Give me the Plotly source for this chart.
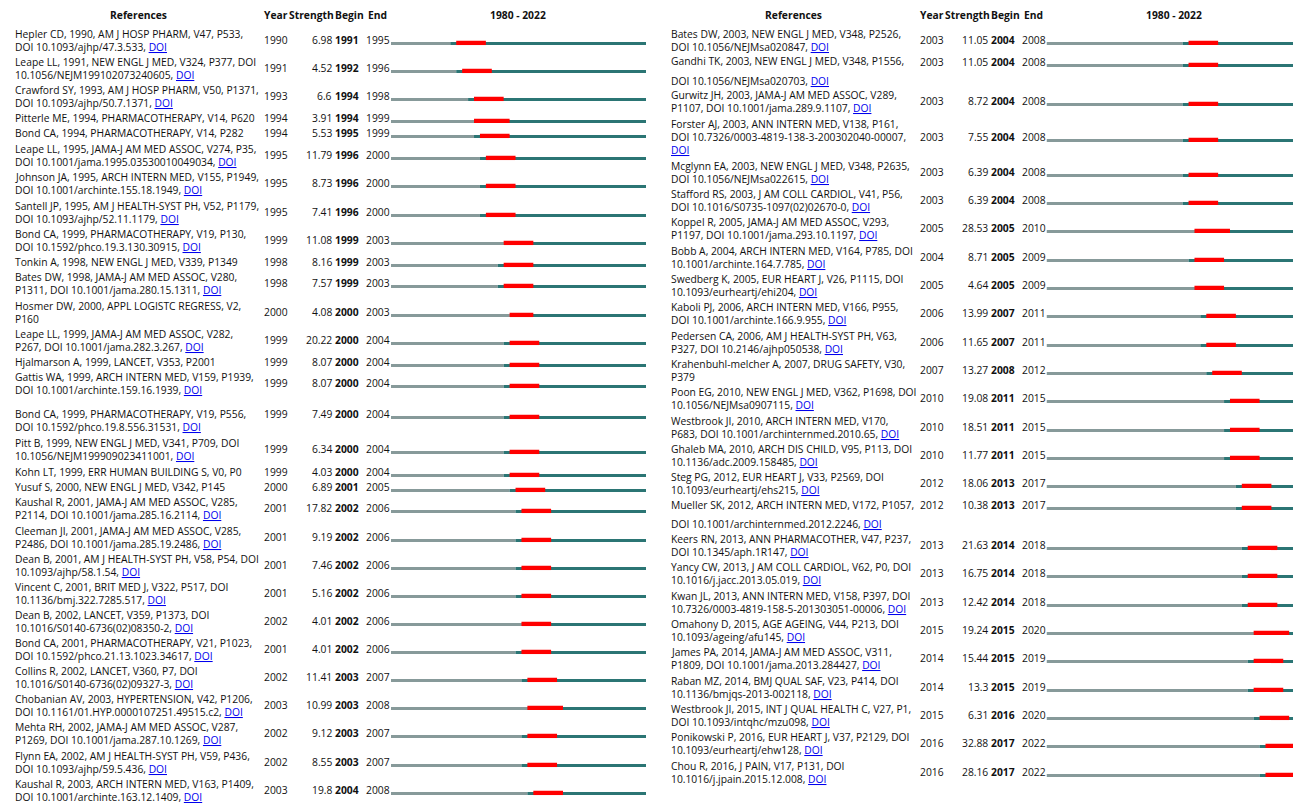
import plotly.graph_objects as go

# ---------------- data ----------------
refs_left = [
    "Hepler CD, 1990, AM J HOSP PHARM, V47, P533,\nDOI 10.1093/ajhp/47.3.533, [DOI]",
    "Leape LL, 1991, NEW ENGL J MED, V324, P377, DOI\n10.1056/NEJM199102073240605, [DOI]",
    "Crawford SY, 1993, AM J HOSP PHARM, V50, P1371,\nDOI 10.1093/ajhp/50.7.1371, [DOI]",
    "Pitterle ME, 1994, PHARMACOTHERAPY, V14, P620",
    "Bond CA, 1994, PHARMACOTHERAPY, V14, P282",
    "Leape LL, 1995, JAMA-J AM MED ASSOC, V274, P35,\nDOI 10.1001/jama.1995.03530010049034, [DOI]",
    "Johnson JA, 1995, ARCH INTERN MED, V155, P1949,\nDOI 10.1001/archinte.155.18.1949, [DOI]",
    "Santell JP, 1995, AM J HEALTH-SYST PH, V52, P1179,\nDOI 10.1093/ajhp/52.11.1179, [DOI]",
    "Bond CA, 1999, PHARMACOTHERAPY, V19, P130,\nDOI 10.1592/phco.19.3.130.30915, [DOI]",
    "Tonkin A, 1998, NEW ENGL J MED, V339, P1349",
    "Bates DW, 1998, JAMA-J AM MED ASSOC, V280,\nP1311, DOI 10.1001/jama.280.15.1311, [DOI]",
    "Hosmer DW, 2000, APPL LOGISTC REGRESS, V2,\nP160",
    "Leape LL, 1999, JAMA-J AM MED ASSOC, V282,\nP267, DOI 10.1001/jama.282.3.267, [DOI]",
    "Hjalmarson A, 1999, LANCET, V353, P2001",
    "Gattis WA, 1999, ARCH INTERN MED, V159, P1939,\nDOI 10.1001/archinte.159.16.1939, [DOI]",
    "Bond CA, 1999, PHARMACOTHERAPY, V19, P556,\nDOI 10.1592/phco.19.8.556.31531, [DOI]",
    "Pitt B, 1999, NEW ENGL J MED, V341, P709, DOI\n10.1056/NEJM199909023411001, [DOI]",
    "Kohn LT, 1999, ERR HUMAN BUILDING S, V0, P0",
    "Yusuf S, 2000, NEW ENGL J MED, V342, P145",
    "Kaushal R, 2001, JAMA-J AM MED ASSOC, V285,\nP2114, DOI 10.1001/jama.285.16.2114, [DOI]",
    "Cleeman JI, 2001, JAMA-J AM MED ASSOC, V285,\nP2486, DOI 10.1001/jama.285.19.2486, [DOI]",
    "Dean B, 2001, AM J HEALTH-SYST PH, V58, P54, DOI\n10.1093/ajhp/58.1.54, [DOI]",
    "Vincent C, 2001, BRIT MED J, V322, P517, DOI\n10.1136/bmj.322.7285.517, [DOI]",
    "Dean B, 2002, LANCET, V359, P1373, DOI\n10.1016/S0140-6736(02)08350-2, [DOI]",
    "Bond CA, 2001, PHARMACOTHERAPY, V21, P1023,\nDOI 10.1592/phco.21.13.1023.34617, [DOI]",
    "Collins R, 2002, LANCET, V360, P7, DOI\n10.1016/S0140-6736(02)09327-3, [DOI]",
    "Chobanian AV, 2003, HYPERTENSION, V42, P1206,\nDOI 10.1161/01.HYP.0000107251.49515.c2, [DOI]",
    "Mehta RH, 2002, JAMA-J AM MED ASSOC, V287,\nP1269, DOI 10.1001/jama.287.10.1269, [DOI]",
    "Flynn EA, 2002, AM J HEALTH-SYST PH, V59, P436,\nDOI 10.1093/ajhp/59.5.436, [DOI]",
    "Kaushal R, 2003, ARCH INTERN MED, V163, P1409,\nDOI 10.1001/archinte.163.12.1409, [DOI]",
]
years_left = [1990, 1991, 1993, 1994, 1994, 1995, 1995, 1995, 1999, 1998, 1998, 2000, 1999, 1999, 1999,
              1999, 1999, 1999, 2000, 2001, 2001, 2001, 2001, 2002, 2001, 2002, 2003, 2002, 2002, 2003]
strength_left = [6.98, 4.52, 6.6, 3.91, 5.53, 11.79, 8.73, 7.41, 11.08, 8.16, 7.57, 4.08, 20.22, 8.07, 8.07,
                 7.49, 6.34, 4.03, 6.89, 17.82, 9.19, 7.46, 5.16, 4.01, 4.01, 11.41, 10.99, 9.12, 8.55, 19.8]
begin_left = [1991, 1992, 1994, 1994, 1995, 1996, 1996, 1996, 1999, 1999, 1999, 2000, 2000, 2000, 2000,
              2000, 2000, 2000, 2001, 2002, 2002, 2002, 2002, 2002, 2002, 2003, 2003, 2003, 2003, 2004]
end_left = [1995, 1996, 1998, 1999, 1999, 2000, 2000, 2000, 2003, 2003, 2003, 2003, 2004, 2004, 2004,
            2004, 2004, 2004, 2005, 2006, 2006, 2006, 2006, 2006, 2006, 2007, 2008, 2007, 2007, 2008]

refs_right = [
    "Bates DW, 2003, NEW ENGL J MED, V348, P2526,\nDOI 10.1056/NEJMsa020847, [DOI]",
    "Gandhi TK, 2003, NEW ENGL J MED, V348, P1556,\nDOI 10.1056/NEJMsa020703, [DOI]",
    "Gurwitz JH, 2003, JAMA-J AM MED ASSOC, V289,\nP1107, DOI 10.1001/jama.289.9.1107, [DOI]",
    "Forster AJ, 2003, ANN INTERN MED, V138, P161,\nDOI 10.7326/0003-4819-138-3-200302040-00007,\n[DOI]",
    "Mcglynn EA, 2003, NEW ENGL J MED, V348, P2635,\nDOI 10.1056/NEJMsa022615, [DOI]",
    "Stafford RS, 2003, J AM COLL CARDIOL, V41, P56,\nDOI 10.1016/S0735-1097(02)02670-0, [DOI]",
    "Koppel R, 2005, JAMA-J AM MED ASSOC, V293,\nP1197, DOI 10.1001/jama.293.10.1197, [DOI]",
    "Bobb A, 2004, ARCH INTERN MED, V164, P785, DOI\n10.1001/archinte.164.7.785, [DOI]",
    "Swedberg K, 2005, EUR HEART J, V26, P1115, DOI\n10.1093/eurheartj/ehi204, [DOI]",
    "Kaboli PJ, 2006, ARCH INTERN MED, V166, P955,\nDOI 10.1001/archinte.166.9.955, [DOI]",
    "Pedersen CA, 2006, AM J HEALTH-SYST PH, V63,\nP327, DOI 10.2146/ajhp050538, [DOI]",
    "Krahenbuhl-melcher A, 2007, DRUG SAFETY, V30,\nP379",
    "Poon EG, 2010, NEW ENGL J MED, V362, P1698, DOI\n10.1056/NEJMsa0907115, [DOI]",
    "Westbrook JI, 2010, ARCH INTERN MED, V170,\nP683, DOI 10.1001/archinternmed.2010.65, [DOI]",
    "Ghaleb MA, 2010, ARCH DIS CHILD, V95, P113, DOI\n10.1136/adc.2009.158485, [DOI]",
    "Steg PG, 2012, EUR HEART J, V33, P2569, DOI\n10.1093/eurheartj/ehs215, [DOI]",
    "Mueller SK, 2012, ARCH INTERN MED, V172, P1057,\nDOI 10.1001/archinternmed.2012.2246, [DOI]",
    "Keers RN, 2013, ANN PHARMACOTHER, V47, P237,\nDOI 10.1345/aph.1R147, [DOI]",
    "Yancy CW, 2013, J AM COLL CARDIOL, V62, P0, DOI\n10.1016/j.jacc.2013.05.019, [DOI]",
    "Kwan JL, 2013, ANN INTERN MED, V158, P397, DOI\n10.7326/0003-4819-158-5-201303051-00006, [DOI]",
    "Omahony D, 2015, AGE AGEING, V44, P213, DOI\n10.1093/ageing/afu145, [DOI]",
    "James PA, 2014, JAMA-J AM MED ASSOC, V311,\nP1809, DOI 10.1001/jama.2013.284427, [DOI]",
    "Raban MZ, 2014, BMJ QUAL SAF, V23, P414, DOI\n10.1136/bmjqs-2013-002118, [DOI]",
    "Westbrook JI, 2015, INT J QUAL HEALTH C, V27, P1,\nDOI 10.1093/intqhc/mzu098, [DOI]",
    "Ponikowski P, 2016, EUR HEART J, V37, P2129, DOI\n10.1093/eurheartj/ehw128, [DOI]",
    "Chou R, 2016, J PAIN, V17, P131, DOI\n10.1016/j.jpain.2015.12.008, [DOI]",
]
years_right = [2003, 2003, 2003, 2003, 2003, 2003, 2005, 2004, 2005, 2006, 2006, 2007, 2010,
               2010, 2010, 2012, 2012, 2013, 2013, 2013, 2015, 2014, 2014, 2015, 2016, 2016]
strength_right = [11.05, 11.05, 8.72, 7.55, 6.39, 6.39, 28.53, 8.71, 4.64, 13.99, 11.65, 13.27, 19.08,
                  18.51, 11.77, 18.06, 10.38, 21.63, 16.75, 12.42, 19.24, 15.44, 13.3, 6.31, 32.88, 28.16]
begin_right = [2004, 2004, 2004, 2004, 2004, 2004, 2005, 2005, 2005, 2007, 2007, 2008, 2011,
               2011, 2011, 2013, 2013, 2014, 2014, 2014, 2015, 2015, 2015, 2016, 2017, 2017]
end_right = [2008, 2008, 2008, 2008, 2008, 2008, 2010, 2009, 2009, 2011, 2011, 2012, 2015,
             2015, 2015, 2017, 2017, 2018, 2018, 2018, 2020, 2019, 2019, 2020, 2022, 2022]

first_year, last_year = 1980, 2022
col_headers = ["References", "Year", "Strength", "Begin", "End"]
timeline_header = f"{first_year} - {last_year}"

# ---------------- layout constants ----------------
W, H = 1301, 803
OFF = 8          # the page body keeps an 8px margin: draw the figure inside it
FW, FH = W - OFF, H - OFF
FONT = "Open Sans"
FS = 10.3
LH = 13
TXT = "#111111"
LINK = "#0000ee"
GRAY, TEAL, RED = "#879a9a", "#2b7574", "#ff0000"
DX = 655.5  # horizontal offset of right panel

row_y_left = [40, 68, 96, 118, 133, 155, 183, 212, 240, 262, 283, 312, 340, 362, 383,
              414, 449, 472, 487, 508, 537, 565, 593, 621, 649, 677, 705, 733, 762, 790]
row_y_right = [40, 62, 101, 137, 172, 200, 228, 257, 285, 313, 342, 370, 398,
               427, 455, 483, 505, 545, 573, 602, 630, 658, 687, 715, 743, 772]
special_offsets = {("L", 15): [0, 13], ("R", 1): [-1, 18.5], ("R", 16): [0, 19]}

DOI_HTML = f'<span style="color:{LINK};text-decoration:underline">DOI</span>'

annotations = []


def ann(x, y, text, anchor="left", bold=False):
    if bold:
        text = f"<b>{text}</b>"
    annotations.append(dict(
        x=x, y=y, xref="x", yref="y", text=text, showarrow=False,
        xanchor=anchor, yanchor="middle", borderpad=0, borderwidth=0,
        font=dict(family=FONT, size=FS, color=TXT), align="left"))


fig = go.Figure()


def panel(tag, ox, refs, years, strength, begin, end, rows, xaxis):
    # headers
    ann(ox + 138, 15, col_headers[0], "center", True)
    ann(ox + 264, 15, col_headers[1], "left", True)
    ann(ox + 289, 15, col_headers[2], "left", True)
    ann(ox + 335, 15, col_headers[3], "left", True)
    ann(ox + 368, 15, col_headers[4], "left", True)
    ann(ox + 518, 15, timeline_header, "center", True)
    for i, (ref, yr, st, b, e, yc) in enumerate(zip(refs, years, strength, begin, end, rows)):
        lines = ref.split("\n")
        n = len(lines)
        offs = special_offsets.get((tag, i), [(k - (n - 1) / 2) * LH for k in range(n)])
        for line, dy in zip(lines, offs):
            ann(ox + 15, yc + dy, line.replace("[DOI]", DOI_HTML))
        ann(ox + 264, yc, str(yr))
        ann(ox + 332, yc, str(st), "right")
        ann(ox + 335, yc, str(b), "left", True)
        ann(ox + 366, yc, str(e))
    bar_y = [y + 3.5 for y in rows]
    red_y = [y + 2.9 for y in rows]
    fig.add_trace(go.Bar(orientation="h", y=bar_y, base=[first_year] * len(years),
                         x=[yv - first_year for yv in years], width=3,
                         marker=dict(color=GRAY, line=dict(width=0)), xaxis=xaxis, yaxis="y",
                         hoverinfo="skip", showlegend=False))
    fig.add_trace(go.Bar(orientation="h", y=bar_y, base=years,
                         x=[last_year + 1 - yv for yv in years], width=3,
                         marker=dict(color=TEAL, line=dict(width=0)), xaxis=xaxis, yaxis="y",
                         hoverinfo="skip", showlegend=False))
    fig.add_trace(go.Bar(orientation="h", y=red_y, base=begin,
                         x=[ev + 1 - bv for bv, ev in zip(begin, end)], width=4.3,
                         marker=dict(color=RED, line=dict(width=0)), xaxis=xaxis, yaxis="y",
                         hoverinfo="skip", showlegend=False))


panel("L", 0, refs_left, years_left, strength_left, begin_left, end_left, row_y_left, "x2")
panel("R", DX, refs_right, years_right, strength_right, begin_right, end_right, row_y_right, "x3")

hidden = dict(visible=False, fixedrange=True, showgrid=False, zeroline=False)
fig.update_layout(
    width=FW, height=FH, margin=dict(l=0, r=0, t=0, b=0),
    paper_bgcolor="white", plot_bgcolor="rgba(0,0,0,0)",
    barmode="overlay", showlegend=False, hovermode=False,
    annotations=annotations,
    xaxis=dict(range=[OFF, W], domain=[0, 1], **hidden),
    yaxis=dict(range=[H, OFF], domain=[0, 1], **hidden),
    xaxis2=dict(range=[first_year, last_year + 1],
                domain=[(391 - OFF) / FW, (646 - OFF) / FW], anchor="y", **hidden),
    xaxis3=dict(range=[first_year, last_year + 1],
                domain=[(391 + DX - OFF) / FW, 1.0], anchor="y", **hidden),
)
fig.write_html("out.html", config={"displayModeBar": False})
